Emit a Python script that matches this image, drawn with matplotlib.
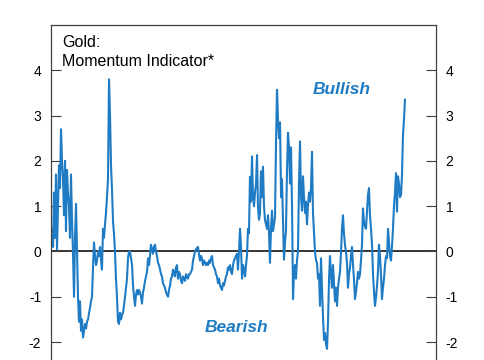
import numpy as np
import pandas as pd
import matplotlib
matplotlib.use("Agg")
import matplotlib.pyplot as plt

plt.rcParams['font.family'] = ['Liberation Sans', 'DejaVu Sans']

# ---------- Data: gold momentum indicator, monthly ----------
momentum = [
    0.5, 0.1, 1.3, 0.3, 1.7, 0.05, 1.0, 1.9, 1.4, 2.7,
    2.0, 1.6, 0.8, 2.0, 0.45, 1.8, 1.3, 1.0, 0.3, 1.7,
    0.7, -0.05, -1.0, 0.3, 1.05, 0.0, -1.0, -1.55, -1.1, -1.75,
    -1.5, -1.9, -1.75, -1.6, -1.7, -1.55, -1.5, -1.35, -1.25, -1.1,
    -1.0, -0.35, 0.2, -0.1, -0.3, -0.2, 0.0, -0.1, 0.1, -0.2,
    -0.4, 0.5, 0.3, 0.6, 0.85, 1.2, 1.6, 3.8, 3.0, 1.9,
    1.35, 0.65, 0.4, 0.0, -0.6, -1.0, -1.55, -1.6, -1.35, -1.5,
    -1.4, -1.35, -1.2, -1.0, -0.8, -0.6, -0.15, 0.0, 0.0, -0.15,
    -0.3, -0.75, -1.0, -1.2, -0.95, -0.85, -0.95, -0.85, -0.9, -1.0,
    -1.15, -0.9, -0.8, -0.65, -0.55, -0.45, -0.15, -0.3, -0.1, 0.15,
    0.05, -0.05, 0.1, 0.15, 0.0, -0.1, -0.25, -0.3, -0.4, -0.5,
    -0.55, -0.7, -0.75, -0.8, -0.9, -0.95, -1.0, -0.85, -0.75, -0.6,
    -0.55, -0.4, -0.5, -0.55, -0.35, -0.3, -0.6, -0.45, -0.5, -0.65,
    -0.7, -0.55, -0.6, -0.65, -0.5, -0.55, -0.6, -0.5, -0.5, -0.45,
    -0.4, -0.2, -0.1, 0.0, 0.05, 0.08, 0.1, -0.05, -0.2, -0.1,
    -0.15, -0.3, -0.2, -0.25, -0.3, -0.25, -0.3, -0.2, -0.25, -0.15,
    -0.1, -0.3, -0.35, -0.4, -0.5, -0.55, -0.7, -0.6, -0.75, -0.8,
    -0.85, -0.7, -0.75, -0.65, -0.55, -0.5, -0.35, -0.4, -0.3, -0.45,
    -0.5, -0.3, -0.2, -0.15, -0.1, -0.05, -0.4, 0.0, 0.5, 0.1,
    -0.6, -0.3, -0.4, -0.55, -0.3, -0.1, 0.5, 0.4, 1.65, 1.1,
    2.1, 1.2, 1.0, 1.3, 1.5, 2.13, 1.0, 0.7, 0.85, 1.77,
    1.2, 1.87, 1.0, 0.7, 0.6, 0.5, 0.8, 0.4, -0.25, 0.5,
    0.9, 0.45, 0.6, 0.75, 2.4, 3.57, 2.9, 2.5, 2.85, 1.2,
    1.6, 0.65, -0.18, 0.2, 0.45, 1.8, 2.62, 2.3, 1.5, 2.3,
    1.0, -1.05, -0.45, -0.3, -0.6, -0.2, 0.0, 1.5, 2.43, 1.2,
    0.9, 1.66, 1.2, 0.85, 1.1, 0.6, 1.0, 1.3, 1.1, 1.4,
    2.2, 0.85, 0.4, 0.0, -0.2, -0.25, -0.6, -0.5, -1.2, -0.15,
    -0.8, -1.45, -1.95, -1.8, -2.05, -2.15, -1.55, -0.6, -0.1, -0.5,
    -0.8, -0.3, -0.7, -1.1, -0.8, -1.2, -0.8, -0.6, -0.45, 0.0,
    0.5, 0.8, 0.4, 0.15, 0.0, -0.25, -0.8, -0.5, -0.35, -0.1,
    0.1, -0.3, -0.6, -1.05, -0.9, -0.7, -0.45, -0.6, -0.5, -0.2,
    0.15, 0.95, 0.65, 0.55, 0.5, 0.9, 1.25, 1.4, 0.8, 0.5,
    0.15, -0.5, -0.9, -1.2, -1.0, -0.75, -0.45, 0.15, -0.1, -0.5,
    -1.05, -0.8, -0.6, -0.3, -0.1, -0.15, 0.5, 0.2, -0.1, -0.2,
    0.1, 0.5, 1.0, 1.3, 1.73, 0.88, 1.66, 1.5, 1.2, 1.25,
    1.66, 2.55, 2.9, 3.35,
]
dates = pd.date_range("1990-01-01", periods=len(momentum), freq="MS")
y_ticks = [-2, -1, 0, 1, 2, 3, 4]

BLUE = "#1f7cc4"

# ---------- Figure ----------
fig = plt.figure(figsize=(4.85, 3.6), dpi=100)
# axes runs off the bottom of the canvas, as in the cropped original
ax = fig.add_axes([0.1052, -0.0761, 0.7938, 1.0067])

ax.plot(dates, momentum, color=BLUE, lw=1.5)
ax.axhline(0, color="black", lw=1.1, zorder=1)

ax.set_ylim(-3, 5)
ax.set_xlim(dates[0] - pd.DateOffset(months=1), dates[0] + pd.DateOffset(months=384))
ax.set_yticks(y_ticks)
ax.set_yticklabels([str(t) for t in y_ticks])
ax.set_xticks([])
ax.tick_params(axis="y", direction="in", length=7, width=0.8, color="#404040",
               labelsize=10, pad=7, left=True, right=True,
               labelleft=True, labelright=True)
for s in ax.spines.values():
    s.set_color("#404040")
    s.set_linewidth(0.9)

tr = ax.get_yaxis_transform()
ax.text(0.028, 4.78, "Gold:\nMomentum Indicator*", transform=tr,
        ha="left", va="top", fontsize=11.5, linespacing=1.35)
ax.text(0.755, 3.58, "Bullish", transform=tr, ha="center", va="center",
        fontsize=12.5, fontweight="bold", fontstyle="italic", color=BLUE)
ax.text(0.483, -1.68, "Bearish", transform=tr, ha="center", va="center",
        fontsize=12.5, fontweight="bold", fontstyle="italic", color=BLUE)

fig.savefig("out.png", dpi=100)
